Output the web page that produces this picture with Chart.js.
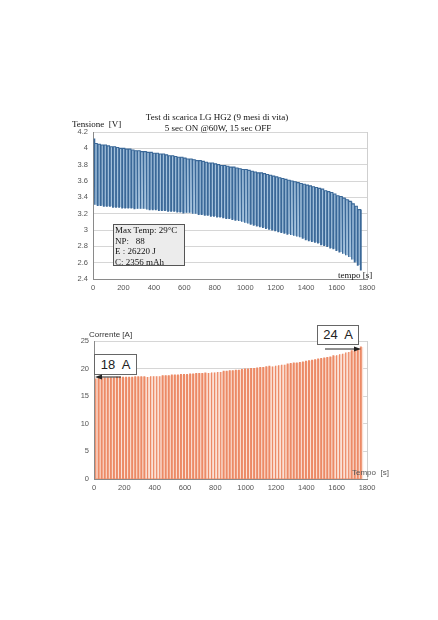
<!DOCTYPE html>
<html>
<head>
<meta charset="utf-8">
<script src="https://cdn.jsdelivr.net/npm/chart.js@4.4.1/dist/chart.umd.min.js"></script>
<style>
  body { margin: 0; width: 438px; height: 620px; background: #fff; position: relative; overflow: hidden; }
  .box { position: absolute; left: 0; width: 438px; }
  .serif { position: absolute; font-family: "Liberation Serif", serif; font-size: 9px; color: #111; white-space: nowrap; line-height: 1; }
  .sans { position: absolute; font-family: "Liberation Sans", Arial, sans-serif; font-size: 8px; color: #333; white-space: nowrap; line-height: 1; }
  .info { position: absolute; left: 113px; top: 224px; width: 72px; height: 42px; background: #ececec; border: 1px solid #555;
          font-family: "Liberation Serif", serif; font-size: 9px; line-height: 10.5px; color: #111; padding-left: 1px; box-sizing: border-box; }
  .tag { position: absolute; background: #fff; border: 1px solid #666; font-family: "Liberation Sans", Arial, sans-serif;
         font-size: 13px; color: #222; text-align: center; box-sizing: border-box; }
</style>
</head>
<body>
<div class="box" style="top:100px;height:200px"><canvas id="voltChart"></canvas></div>
<div class="box" style="top:320px;height:190px"><canvas id="currChart"></canvas></div>

<div class="serif" style="left:0;width:434px;text-align:center;top:113px">Test di scarica LG HG2 (9 mesi di vita)</div>
<div class="serif" style="left:0;width:436px;text-align:center;top:124px">5 sec ON @60W, 15 sec OFF</div>
<div class="serif" style="left:72px;top:120px">Tensione&nbsp; [V]</div>
<div class="serif" style="left:338px;top:271px">tempo [s]</div>
<div class="info">Max Temp: 29°C<br>NP:&nbsp;&nbsp; 88<br>E : 26220 J<br>C: 2356 mAh</div>

<div class="sans" style="left:89px;top:331px">Corrente [A]</div>
<div class="sans" style="left:352px;top:469px;color:#555">Tempo&nbsp; [s]</div>
<div class="tag" style="left:94px;top:354px;width:43px;height:21px;line-height:19px">18&nbsp; A</div>
<div class="tag" style="left:317px;top:325px;width:42px;height:20px;line-height:18px">24&nbsp; A</div>
<svg style="position:absolute;left:0;top:0" width="438" height="620">
  <line x1="121" y1="377" x2="100" y2="377" stroke="#222" stroke-width="1"/>
  <polygon points="95,377 102,374.5 102,379.5" fill="#222"/>
  <line x1="325" y1="349" x2="354" y2="349" stroke="#222" stroke-width="1"/>
  <polygon points="361,349 354,346.5 354,351.5" fill="#222"/>
</svg>

<script>
// test protocol: 88 pulses, 5 s ON, ~20 s period
const pulseStart = 8;
const pulsePeriod = 20.1;
const pulseOn = 5;

// rest voltage before each pulse [V]
const voltRest = [
  4.12, 4.06, 4.05, 4.04, 4.04, 4.03, 4.02, 4.02, 4.01, 4.00,
  4.00, 3.99, 3.99, 3.98, 3.97, 3.97, 3.96, 3.96, 3.95, 3.95,
  3.94, 3.94, 3.93, 3.93, 3.92, 3.91, 3.91, 3.90, 3.89, 3.89,
  3.88, 3.87, 3.87, 3.86, 3.85, 3.85, 3.84, 3.83, 3.82, 3.82,
  3.81, 3.80, 3.79, 3.79, 3.78, 3.77, 3.77, 3.76, 3.75, 3.74,
  3.74, 3.73, 3.72, 3.71, 3.70, 3.70, 3.69, 3.68, 3.67, 3.66,
  3.65, 3.64, 3.63, 3.62, 3.61, 3.60, 3.59, 3.58, 3.57, 3.56,
  3.55, 3.54, 3.53, 3.52, 3.51, 3.50, 3.48, 3.47, 3.46, 3.44,
  3.42, 3.41, 3.39, 3.37, 3.35, 3.32, 3.29, 3.25
];
// voltage under load at the end of each pulse [V]
const voltLoad = [
  3.31, 3.30, 3.30, 3.29, 3.29, 3.29, 3.28, 3.28, 3.28, 3.27,
  3.27, 3.27, 3.27, 3.26, 3.26, 3.26, 3.26, 3.25, 3.25, 3.25,
  3.25, 3.24, 3.24, 3.24, 3.23, 3.23, 3.23, 3.22, 3.22, 3.21,
  3.21, 3.21, 3.20, 3.20, 3.19, 3.19, 3.18, 3.18, 3.17, 3.17,
  3.16, 3.16, 3.15, 3.14, 3.14, 3.13, 3.12, 3.11, 3.10, 3.09,
  3.08, 3.07, 3.06, 3.05, 3.04, 3.03, 3.02, 3.01, 3.00, 2.99,
  2.98, 2.97, 2.96, 2.95, 2.94, 2.93, 2.92, 2.91, 2.90, 2.88,
  2.87, 2.86, 2.85, 2.84, 2.82, 2.81, 2.80, 2.78, 2.77, 2.75,
  2.73, 2.71, 2.69, 2.67, 2.64, 2.61, 2.57, 2.51
];
// current during each pulse [A]
const currOn = [
  18.2, 18.3, 18.3, 18.3, 18.3, 18.3, 18.3, 18.4, 18.4, 18.4,
  18.4, 18.4, 18.4, 18.5, 18.5, 18.5, 18.5, 18.5, 18.6, 18.6,
  18.6, 18.6, 18.7, 18.7, 18.7, 18.8, 18.8, 18.8, 18.9, 18.9,
  18.9, 19.0, 19.0, 19.1, 19.1, 19.1, 19.2, 19.2, 19.3, 19.3,
  19.4, 19.4, 19.5, 19.5, 19.6, 19.6, 19.7, 19.7, 19.8, 19.9,
  19.9, 20.0, 20.0, 20.1, 20.2, 20.2, 20.3, 20.4, 20.4, 20.5,
  20.6, 20.7, 20.7, 20.8, 20.9, 21.0, 21.0, 21.1, 21.2, 21.3,
  21.4, 21.5, 21.6, 21.7, 21.8, 21.9, 22.0, 22.1, 22.3, 22.4,
  22.6, 22.7, 22.9, 23.0, 23.2, 23.4, 23.6, 23.9
];

const timeTicks = [0, 200, 400, 600, 800, 1000, 1200, 1400, 1600, 1800];
const voltTicks = [2.4, 2.6, 2.8, 3, 3.2, 3.4, 3.6, 3.8, 4, 4.2];
const currTicks = [0, 5, 10, 15, 20, 25];

// build step traces from the per-pulse values
const voltPts = [];
const loadPts = [];
voltRest.forEach((up, i) => {
    const t = pulseStart + i * pulsePeriod;
    const next = i + 1 < voltRest.length ? voltRest[i + 1] : up;
    voltPts.push({ x: t, y: up }, { x: t, y: voltLoad[i] },
                 { x: t + pulseOn, y: voltLoad[i] }, { x: t + pulseOn, y: next });
    loadPts.push({ x: t, y: voltLoad[i] }, { x: t + pulsePeriod, y: voltLoad[i] });
});
const currPts = [];
const currEnv = [];
currOn.forEach((a, i) => {
    const t = pulseStart + i * pulsePeriod;
    currPts.push({ x: t, y: 0 }, { x: t, y: a }, { x: t + pulseOn, y: a }, { x: t + pulseOn, y: 0 });
    currEnv.push({ x: t, y: a }, { x: t + pulsePeriod - 0.01, y: a });
});

const tickFont = { family: "Liberation Sans, Arial, sans-serif", size: 7.5 };

function timeAxis(height) {
    return {
        type: "linear",
        min: 0,
        max: 1800,
        afterBuildTicks: axis => { axis.ticks = timeTicks.map(v => ({ value: v })); },
        afterFit: scale => { scale.height = height; },
        grid: {
            drawTicks: false,
            color: c => (c.tick && c.tick.value === 1800 ? "#cfcfcf" : "rgba(0,0,0,0)")
        },
        border: { color: "#8a8a8a" },
        ticks: { color: "#555", font: tickFont, padding: 4, maxRotation: 0, callback: v => String(v) }
    };
}

function valueAxis(min, max, ticks, width) {
    return {
        min: min,
        max: max,
        afterBuildTicks: axis => { axis.ticks = ticks.map(v => ({ value: v })); },
        afterFit: scale => { scale.width = width; },
        grid: { drawTicks: false, color: "#d6d6d6" },
        border: { color: "#8a8a8a" },
        ticks: { color: "#555", font: tickFont, padding: 5, callback: v => String(v) }
    };
}

new Chart(document.getElementById("voltChart"), {
    type: "line",
    data: {
        datasets: [
            { data: loadPts, borderWidth: 0, borderColor: "rgba(0,0,0,0)", pointRadius: 0, fill: false },
            {
                data: voltPts,
                borderColor: "#3a6898",
                borderWidth: 1.1,
                backgroundColor: "#a3c1dc",
                fill: 0,
                pointRadius: 0,
                tension: 0
            }
        ]
    },
    options: {
        responsive: true,
        maintainAspectRatio: false,
        animation: false,
        parsing: false,
        layout: { padding: { top: 32, right: 71, left: 0, bottom: 0 } },
        plugins: { legend: { display: false }, tooltip: { enabled: false } },
        scales: {
            x: timeAxis(21),
            y: valueAxis(2.4, 4.2, voltTicks, 93)
        }
    }
});

new Chart(document.getElementById("currChart"), {
    type: "line",
    data: {
        datasets: [
            {
                data: currPts,
                borderColor: "#ec8a66",
                borderWidth: 1.2,
                backgroundColor: "#f3ab92",
                fill: "origin",
                pointRadius: 0,
                tension: 0
            },
            {
                data: currEnv,
                borderWidth: 0,
                borderColor: "rgba(0,0,0,0)",
                backgroundColor: "#fbe1d6",
                fill: "origin",
                pointRadius: 0,
                tension: 0
            }
        ]
    },
    options: {
        responsive: true,
        maintainAspectRatio: false,
        animation: false,
        parsing: false,
        layout: { padding: { top: 21, right: 71, left: 0, bottom: 0 } },
        plugins: { legend: { display: false }, tooltip: { enabled: false } },
        scales: {
            x: timeAxis(31),
            y: valueAxis(0, 25, currTicks, 94)
        }
    }
});
</script>
</body>
</html>
